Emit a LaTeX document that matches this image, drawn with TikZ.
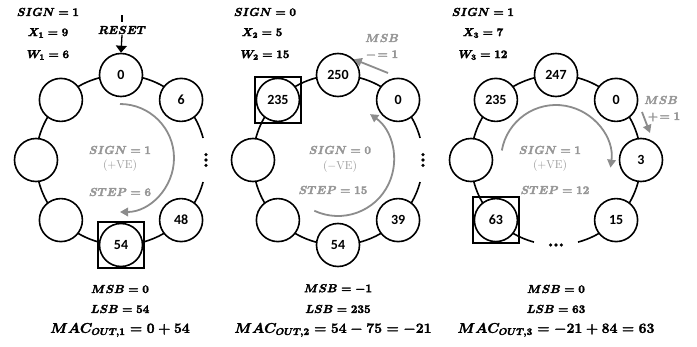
\RequirePackage{fix-cm}
\documentclass[tikz,border=0pt]{standalone}
\usepackage{fontspec}
\usepackage{amsmath}
\usetikzlibrary{arrows.meta}
\newfontfamily\numfont{Carlito}
\definecolor{arcgray}{RGB}{140,140,140}
\definecolor{txtgray}{RGB}{150,150,150}
% heavier glyphs: fill and stroke the outlines
\newcommand\heavyon{\special{pdf:literal direct 2 Tr 0.3 w}}
\newcommand\heavyoff{\special{pdf:literal direct 0 Tr 0.4 w}}
\begin{document}
\begin{tikzpicture}[x=1pt,y=1pt,
  ringnode/.style={circle, draw, line width=1.6pt, fill=white, minimum size=43pt,
    inner sep=0pt, font=\numfont\bfseries\fontsize{14}{16}\selectfont},
  ringline/.style={line width=1.6pt},
  selbox/.style={draw, line width=1.9pt, minimum size=46pt, inner sep=0pt},
  turn/.style={draw=arcgray, line width=1.8pt, -{Triangle[length=8pt,width=8.5pt]}},
  heavy/.style={execute at begin node=\heavyon, execute at end node=\heavyoff},
  lab/.style={font=\fontsize{11.5}{13}\selectfont\boldmath, inner sep=1pt, heavy},
  biglab/.style={font=\fontsize{14}{16}\selectfont\boldmath, inner sep=1pt, heavy},
  glab/.style={lab, text=txtgray},
  gplain/.style={font=\fontsize{11.5}{13}\selectfont, text=txtgray, inner sep=1pt},
  dotmark/.style={fill=black, circle, inner sep=0pt, minimum size=3.6pt}
]
\useasboundingbox (0,0) rectangle (697,346);

% ring centres
\coordinate (c1) at (121,186);
\coordinate (c2) at (338,186);
\coordinate (c3) at (556,186);

% ---------------- cycle 1 ----------------
\draw[ringline] ([shift={(15:85pt)}]c1) arc[start angle=15, end angle=345, radius=85pt];
\node[ringnode] (p1n90)  at ([shift={(90:85pt)}]c1)   {0};
\node[ringnode] (p1n45)  at ([shift={(45:85pt)}]c1)   {6};
\node[ringnode] (p1n315) at ([shift={(-45:85pt)}]c1)  {48};
\node[ringnode] (p1n270) at ([shift={(-90:85pt)}]c1)  {54};
\node[ringnode] (p1n225) at ([shift={(-135:85pt)}]c1) {};
\node[ringnode] (p1n180) at ([shift={(180:85pt)}]c1)  {};
\node[ringnode] (p1n135) at ([shift={(135:85pt)}]c1)  {};
\node[selbox] (p1sel) at (p1n270) {};
\node[dotmark] (p1d1) at ([shift={(0:85pt)}]c1) {};
\node[dotmark] (p1d2) at ([shift={(0,5.4pt)}]p1d1) {};
\node[dotmark] (p1d3) at ([shift={(0,-5.4pt)}]p1d1) {};

\coordinate (g1c) at (120,188);
\draw[turn] ([shift={(90:54pt)}]g1c) arc[start angle=90, end angle=-90, radius=54pt];
\node[glab]   (p1sign) at (120,196) {$SIGN = 1$};
\node[gplain] (p1ve)   at (120,180) {$(+\mathrm{VE})$};
\node[glab]   (p1step) at (120,154) {$STEP = 6$};

\node[lab] (p1s) at (48,334) {$SIGN = 1$};
\node[lab] (p1x) at (48,313) {$X_1 = 9$};
\node[lab] (p1w) at (48,291) {$W_1 = 6$};

\node[lab] (rst) at (122,316) {$RESET$};
\draw[line width=1.1pt] ([yshift=3pt]rst.north) -- ++(0,7pt);
\draw[line width=1.3pt, -{Triangle[length=7pt,width=11pt]}] (rst.south) -- (p1n90.north);

\node[lab]    (p1msb) at (120,57) {$MSB = 0$};
\node[lab]    (p1lsb) at (120,37) {$LSB = 54$};
\node[biglab] (p1mac) at (120,16) {$MAC_{OUT,1} = 0 + 54$};

% ---------------- cycle 2 ----------------
\draw[ringline] ([shift={(15:85pt)}]c2) arc[start angle=15, end angle=345, radius=85pt];
\node[ringnode] (p2n90)  at ([shift={(90:85pt)}]c2)   {250};
\node[ringnode] (p2n45)  at ([shift={(45:85pt)}]c2)   {0};
\node[ringnode] (p2n315) at ([shift={(-45:85pt)}]c2)  {39};
\node[ringnode] (p2n270) at ([shift={(-90:85pt)}]c2)  {54};
\node[ringnode] (p2n225) at ([shift={(-135:85pt)}]c2) {};
\node[ringnode] (p2n180) at ([shift={(180:85pt)}]c2)  {};
\node[ringnode] (p2n135) at ([shift={(135:85pt)}]c2)  {235};
\node[selbox] (p2sel) at (p2n135) {};
\node[dotmark] (p2d1) at ([shift={(0:85pt)}]c2) {};
\node[dotmark] (p2d2) at ([shift={(0,5.4pt)}]p2d1) {};
\node[dotmark] (p2d3) at ([shift={(0,-5.4pt)}]p2d1) {};

\draw[turn] ([shift={(-115:56pt)}]c2) arc[start angle=-115, end angle=55, radius=56pt];
\node[glab]   (p2sign) at (340,196) {$SIGN = 0$};
\node[gplain] (p2ve)   at (340,179) {$(-\mathrm{VE})$};
\node[glab]   (p2step) at (333,156) {$STEP = 15$};

\node[glab] (p2m)  at (382,308) {$MSB$};
\node[glab] (p2mi) at (382,291) {$\mathord{-}\!\mathrel{=}1$};
\coordinate (p2mfrom) at (388,273);
\draw[turn] (p2mfrom) -- (p2n90.north east);

\node[lab] (p2s) at (265,334) {$SIGN = 0$};
\node[lab] (p2x) at (262,313) {$X_2 = 5$};
\node[lab] (p2w) at (265,291) {$W_2 = 15$};

\node[lab]    (p2msb) at (338,57) {$MSB = -1$};
\node[lab]    (p2lsb) at (338,37) {$LSB = 235$};
\node[biglab] (p2mac) at (333,16) {$MAC_{OUT,2} = 54 - 75 = -21$};

% ---------------- cycle 3 ----------------
\draw[ringline] ([shift={(-75:85pt)}]c3) arc[start angle=-75, end angle=255, radius=85pt];
\node[ringnode] (p3n90)  at ([shift={(90:85pt)}]c3)   {247};
\node[ringnode] (p3n45)  at ([shift={(45:85pt)}]c3)   {0};
\node[ringnode] (p3n0)   at ([shift={(0:85pt)}]c3)    {3};
\node[ringnode] (p3n315) at ([shift={(-45:85pt)}]c3)  {15};
\node[ringnode] (p3n225) at ([shift={(-135:85pt)}]c3) {63};
\node[ringnode] (p3n180) at ([shift={(180:85pt)}]c3)  {};
\node[ringnode] (p3n135) at ([shift={(135:85pt)}]c3)  {235};
\node[selbox] (p3sel) at (p3n225) {};
\node[dotmark] (p3d1) at ([shift={(-90:85pt)}]c3) {};
\node[dotmark] (p3d2) at ([shift={(5.4pt,0)}]p3d1) {};
\node[dotmark] (p3d3) at ([shift={(-5.4pt,0)}]p3d1) {};

\draw[turn] ([shift={(170:55pt)}]c3) arc[start angle=170, end angle=-8, radius=55pt];
\node[glab]   (p3sign) at (550,196) {$SIGN = 1$};
\node[gplain] (p3ve)   at (550,180) {$(+\mathrm{VE})$};
\node[glab]   (p3step) at (555,156) {$STEP = 12$};

\node[glab] (p3m)  at (661,246) {$MSB$};
\node[glab] (p3mi) at (664,229) {$\mathord{+}\!\mathrel{=}1$};
\coordinate (p3mfrom) at (642,234);
\coordinate (p3mto) at (650,213);
\draw[turn] (p3mfrom) -- (p3mto);

\node[lab] (p3s) at (483,334) {$SIGN = 1$};
\node[lab] (p3x) at (483,313) {$X_3 = 7$};
\node[lab] (p3w) at (483,291) {$W_3 = 12$};

\node[lab]    (p3msb) at (556,57) {$MSB = 0$};
\node[lab]    (p3lsb) at (556,37) {$LSB = 63$};
\node[biglab] (p3mac) at (556,16) {$MAC_{OUT,3} = -21 + 84 = 63$};
\end{tikzpicture}
\end{document}
